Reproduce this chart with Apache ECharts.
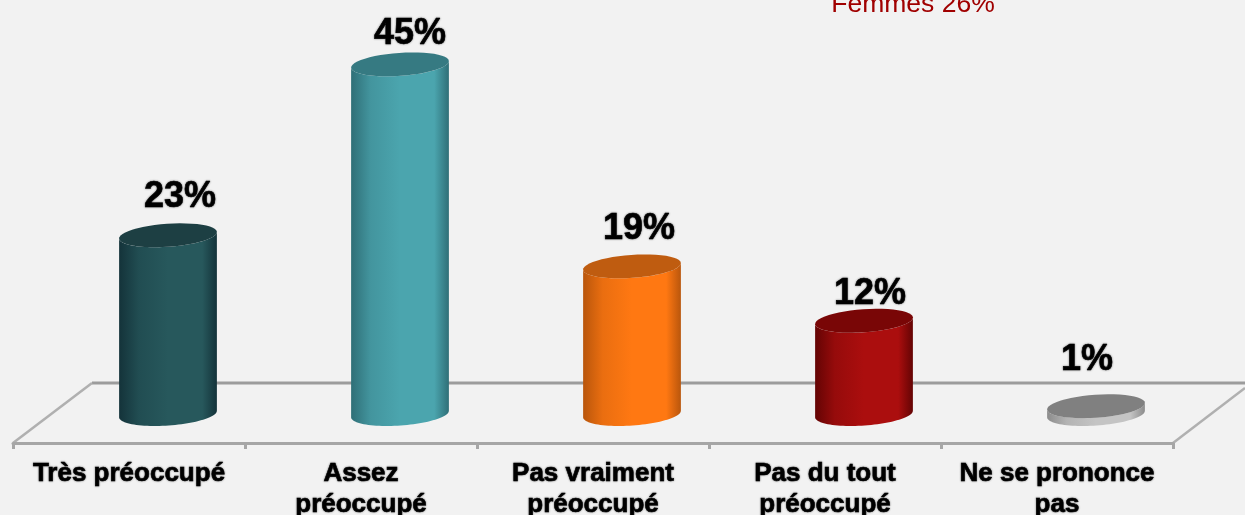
<!DOCTYPE html>
<html>
<head>
<meta charset="utf-8">
<style>
  html, body { margin: 0; padding: 0; background: #f2f2f2; }
  #chart { width: 1245px; height: 515px; }
</style>
<script src="https://cdn.jsdelivr.net/npm/echarts@6/dist/echarts.min.js"></script>
</head>
<body>
<div id="chart"></div>
<script>
const categories = ['Très préoccupé', 'Assez\npréoccupé', 'Pas vraiment\npréoccupé', 'Pas du tout\npréoccupé', 'Ne se prononce\npas']
const values = [23, 45, 19, 12, 1]
const noteText = 'Femmes 26%'

// edge / middle / top of each cylinder
const edgeColors = ['#14333a', '#2f6f77', '#b9560c', '#640404', '#8c8c8c']
const midColors = ['#27585c', '#4ba5ae', '#ff7812', '#ab0e0e', '#c4c4c4']
const topColors = ['#1d3f43', '#367a82', '#bf5c10', '#790606', '#808080']
// the value labels do not sit at a constant distance above the bars
const labelGaps = [38, 30, 37, 27, 46]
const labelShifts = [12, 10, 7, 6, -9]

const font = 'Liberation Sans'
const barShift = 39
const halfWidth = 49
const radiusY = 11.5
const tilt = -4 * Math.PI / 180

// points of a tilted ellipse between two angles
const arc = (cx, cy, from, to) => {
  const pts = []
  for (let i = 0; i <= 48; i++) {
    const a = from + (to - from) * i / 48
    const x = halfWidth * Math.cos(a)
    const y = radiusY * Math.sin(a)
    pts.push([cx + x * Math.cos(tilt) - y * Math.sin(tilt), cy + x * Math.sin(tilt) + y * Math.cos(tilt)])
  }
  return pts
}

const renderCylinder = (params, api) => {
  const i = api.value(0)
  const v = api.value(1)
  const top = api.coord([i, v])
  const base = api.coord([i, 0])
  const cx = top[0] + barShift
  const body = arc(cx, base[1], 0, Math.PI).concat(arc(cx, top[1], Math.PI, 0))
  return {
    type: 'group',
    children: [
      {
        type: 'polygon',
        shape: { points: body },
        style: {
          fill: new echarts.graphic.LinearGradient(0, 0, 1, 0, [
            { offset: 0, color: edgeColors[i] },
            { offset: 0.2, color: echarts.color.lerp(0.7, [edgeColors[i], midColors[i]]) },
            { offset: 0.5, color: midColors[i] },
            { offset: 0.85, color: midColors[i] },
            { offset: 1, color: edgeColors[i] }
          ])
        }
      },
      {
        type: 'polygon',
        shape: { points: arc(cx, top[1], 0, Math.PI * 2) },
        style: { fill: topColors[i] }
      },
      {
        type: 'text',
        style: {
          x: cx + labelShifts[i],
          y: top[1] - labelGaps[i],
          text: v + '%',
          fill: '#000',
          font: 'bold 36px "' + font + '"',
          align: 'center',
          verticalAlign: 'middle',
          stroke: '#000',
          lineWidth: 0.6,
          textShadowColor: 'rgba(0,0,0,0.45)',
          textShadowBlur: 2
        }
      }
    ]
  }
}

const chartInstance = echarts.init(document.getElementById('chart'))

chartInstance.setOption({
  animation: false,
  backgroundColor: '#f2f2f2',
  grid: { left: 13, width: 1160, top: 25.5, height: 388.5, outerBoundsMode: 'none' },
  xAxis: {
    type: 'category',
    data: categories,
    offset: 29,
    axisLine: { onZero: false, lineStyle: { color: '#a6a6a6', width: 3 } },
    axisTick: { show: true, length: 6, lineStyle: { color: '#a6a6a6', width: 3 } },
    axisLabel: {
      interval: 0,
      margin: 15,
      color: '#000',
      fontFamily: font,
      fontWeight: 'bold',
      fontSize: 26,
      lineHeight: 31,
      textBorderColor: '#000',
      textBorderWidth: 0.6,
      textShadowColor: 'rgba(0,0,0,0.45)',
      textShadowBlur: 2
    }
  },
  yAxis: { type: 'value', min: 0, max: 50, show: false },
  graphic: [
    {
      type: 'line',
      z: -1,
      silent: true,
      shape: { x1: 92, y1: 383, x2: 1245, y2: 383 },
      style: { stroke: '#9c9c9c', lineWidth: 3 }
    },
    {
      type: 'line',
      z: -1,
      silent: true,
      shape: { x1: 13, y1: 443, x2: 92, y2: 383 },
      style: { stroke: '#b0b0b0', lineWidth: 2.5 }
    },
    {
      type: 'line',
      z: -1,
      silent: true,
      shape: { x1: 1173, y1: 443, x2: 1245, y2: 388 },
      style: { stroke: '#b0b0b0', lineWidth: 2.5 }
    },
    {
      type: 'text',
      x: 913,
      y: 18,
      style: {
        text: noteText,
        fill: '#a00000',
        font: '26.5px "' + font + '"',
        align: 'center',
        verticalAlign: 'bottom'
      }
    }
  ],
  series: [
    {
      type: 'custom',
      renderItem: renderCylinder,
      encode: { x: 0, y: 1 },
      clip: false,
      data: values.map((v, i) => [i, v])
    }
  ]
})
</script>
</body>
</html>
